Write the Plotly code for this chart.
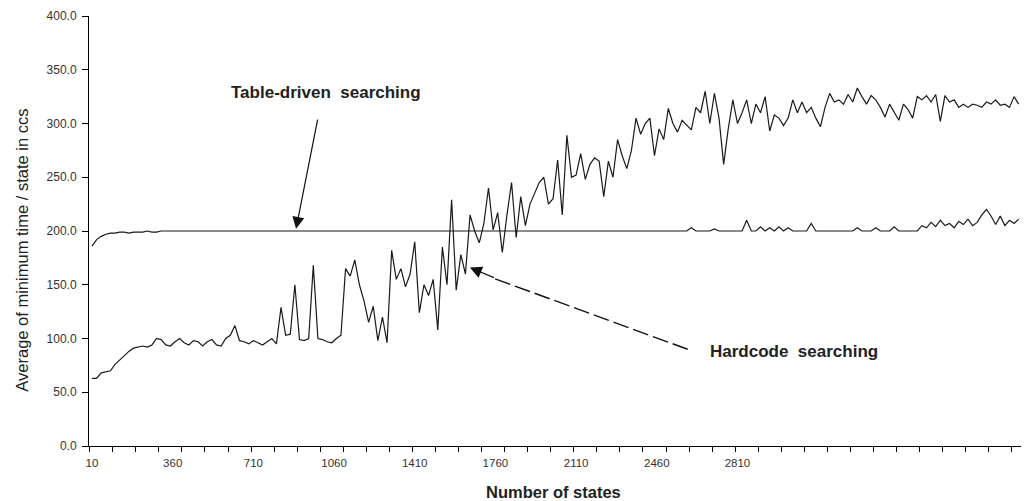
import plotly.graph_objects as go

# Number of states (x categories), step 20
states = list(range(10, 4031, 20))

hardcode = [
    63, 63, 68, 69, 70, 76, 80, 84, 88, 91,
    92, 93, 92, 94, 100, 99, 94, 93, 97, 100,
    96, 94, 98, 97, 93, 97, 99, 94, 93, 100,
    103, 112, 98, 97, 95, 98, 96, 94, 97, 100,
    95, 129, 103, 104, 150, 99, 98, 100, 168, 100,
    99, 97, 96, 100, 103, 165, 158, 173, 150, 135,
    115, 130, 98, 120, 96, 182, 155, 165, 148, 160,
    190, 124, 150, 140, 155, 108, 185, 150, 229, 145,
    178, 160, 215, 200, 189, 207, 240, 201, 217, 180,
    215, 245, 194, 232, 205, 225, 235, 245, 250, 225,
    230, 266, 215, 289, 250, 252, 272, 248, 262, 268,
    265, 232, 265, 250, 285, 270, 258, 275, 305, 290,
    300, 305, 270, 295, 285, 314, 300, 292, 303, 298,
    294, 315, 310, 330, 300, 328, 305, 262, 295, 322,
    300, 310, 322, 300, 318, 310, 325, 293, 308, 305,
    298, 305, 322, 310, 320, 310, 315, 305, 297, 315,
    328, 320, 322, 318, 327, 320, 333, 325, 318, 326,
    322, 315, 306, 318, 310, 303, 318, 313, 305, 325,
    322, 326, 320, 327, 302, 326, 320, 322, 315, 318,
    315, 318, 317, 315, 320, 318, 322, 317, 318, 315,
    325, 318,
]

table_driven = [
    186, 192, 195, 197, 198, 198, 199, 199, 198, 199,
    199, 199, 200, 199, 199, 200, 200, 200, 200, 200,
    200, 200, 200, 200, 200, 200, 200, 200, 200, 200,
    200, 200, 200, 200, 200, 200, 200, 200, 200, 200,
    200, 200, 200, 200, 200, 200, 200, 200, 200, 200,
    200, 200, 200, 200, 200, 200, 200, 200, 200, 200,
    200, 200, 200, 200, 200, 200, 200, 200, 200, 200,
    200, 200, 200, 200, 200, 200, 200, 200, 200, 200,
    200, 200, 200, 200, 200, 200, 200, 200, 200, 200,
    200, 200, 200, 200, 200, 200, 200, 200, 200, 200,
    200, 200, 200, 200, 200, 200, 200, 200, 200, 200,
    200, 200, 200, 200, 200, 200, 200, 200, 200, 200,
    200, 200, 200, 200, 200, 200, 200, 200, 200, 200,
    203, 200, 200, 200, 200, 202, 200, 200, 200, 200,
    200, 200, 210, 200, 200, 204, 200, 203, 200, 204,
    200, 203, 200, 200, 200, 200, 207, 200, 200, 200,
    200, 200, 200, 200, 200, 200, 203, 200, 200, 200,
    203, 200, 200, 200, 204, 200, 200, 200, 200, 200,
    205, 203, 208, 204, 210, 205, 207, 203, 209, 206,
    211, 205, 208, 215, 220, 214, 206, 214, 205, 210,
    207, 211,
]

x_tick_vals = [10, 360, 710, 1060, 1410, 1760, 2110, 2460, 2810]
x_tick_text = ["10", "360", "710", "1060", "1410", "1760", "2110", "2460", "2810"]
y_tick_vals = [0, 50, 100, 150, 200, 250, 300, 350, 400]

FONT = "Liberation Sans, Arial, sans-serif"
LINE = "#1a1a1a"

fig = go.Figure()
fig.add_trace(go.Scatter(x=states, y=table_driven, mode="lines",
                         line=dict(color=LINE, width=1.2), name="Table-driven searching"))
fig.add_trace(go.Scatter(x=states, y=hardcode, mode="lines",
                         line=dict(color=LINE, width=1.2), name="Hardcode searching"))

fig.update_layout(
    width=1024, height=501,
    margin=dict(l=89, r=3, t=16, b=55),
    paper_bgcolor="white", plot_bgcolor="white",
    showlegend=False,
    font=dict(family=FONT, color="#333"),
    xaxis=dict(
        range=[-3, 4040],
        tickmode="array", tickvals=x_tick_vals, ticktext=x_tick_text,
        ticks="", ticklabelstandoff=6,
        tickfont=dict(size=11.5, color="#333"),
        showline=True, linecolor="black", linewidth=1,
        showgrid=False, zeroline=False,
        minor=dict(ticks="outside", ticklen=5, tickcolor="black", tickwidth=1,
                   tickmode="linear", tick0=0, dtick=100, showgrid=False),
    ),
    yaxis=dict(
        range=[0, 400],
        tickmode="array", tickvals=y_tick_vals, tickformat=".1f",
        ticks="outside", ticklen=6, tickcolor="black",
        ticklabelstandoff=3,
        tickfont=dict(size=12, color="#333"),
        showline=True, linecolor="black", linewidth=1,
        showgrid=False, zeroline=False,
    ),
)

# axis titles
fig.add_annotation(text="Average of minimum time / state in ccs", xref="paper", yref="paper",
                   x=-0.084, y=0.456, textangle=-90, showarrow=False,
                   font=dict(size=16.5, color="#222", family=FONT))
fig.add_annotation(text="<b>Number of states</b>", xref="paper", yref="paper",
                   x=0.498, y=-0.107, showarrow=False, xanchor="center", yanchor="middle",
                   font=dict(size=16.5, color="#222", family=FONT))

# series labels
fig.add_annotation(text="<b>Table-driven&nbsp;&nbsp;searching</b>", x=1025, y=329, showarrow=False,
                   font=dict(size=17, color="#222", family=FONT))
fig.add_annotation(text="", x=895, y=202, ax=990, ay=305, axref="x", ayref="y",
                   showarrow=True, arrowhead=2, arrowsize=2, arrowwidth=1.2, arrowcolor="#111")

fig.add_annotation(text="<b>Hardcode&nbsp;&nbsp;searching</b>", x=3055, y=88, showarrow=False,
                   font=dict(size=17, color="#222", family=FONT))
fig.add_shape(type="line", x0=2594, y0=90, x1=1740, y1=157,
              line=dict(color="#111", width=1.4, dash="16px,5px"))
fig.add_annotation(text="", x=1649, y=166, ax=1760, ay=156, axref="x", ayref="y",
                   showarrow=True, arrowhead=2, arrowsize=2, arrowwidth=1.2, arrowcolor="#111")

fig.write_html("out.html")
